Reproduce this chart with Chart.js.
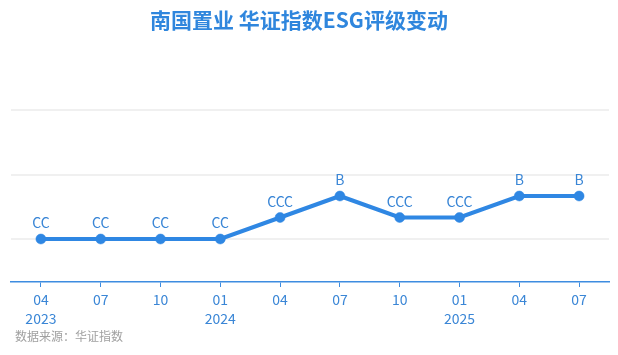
<!DOCTYPE html>
<html>
<head>
<meta charset="utf-8">
<script src="https://cdn.jsdelivr.net/npm/chart.js@4/dist/chart.umd.min.js"></script>
<style>
  html, body { margin: 0; padding: 0; background: #fff; }
  #wrap { position: relative; width: 618px; height: 355px; }
  #title { position: absolute; left: 0; width: 598px; top: 5px; text-align: center;
    font: bold 21px "Noto Sans CJK SC", sans-serif; color: #2f86dd; line-height: 28px; }
  #source { position: absolute; left: 15px; top: 327px; font: 12px "Noto Sans CJK SC", sans-serif;
    color: #a0a0a0; line-height: 18px; }
  canvas { position: absolute; left: 0; top: 0; }
</style>
</head>
<body>
<div id="wrap">
  <canvas id="c" width="618" height="355"></canvas>
  <div id="title">南国置业 华证指数ESG评级变动</div>
  <div id="source">数据来源：华证指数</div>
</div>
<script>
const months = ['04','07','10','01','04','07','10','01','04','07'];
const years = ['2023','','','2024','','','','2025','',''];
const ratings = ['CC','CC','CC','CC','CCC','B','CCC','CCC','B','B'];
const ratingScale = ['C','CC','CCC','B','BB','BBB','A','AA','AAA'];
const gridValues = [2, 5, 8];

const labels = months.map((m, i) => years[i] ? [m, years[i]] : [m]);
const values = ratings.map(r => ratingScale.indexOf(r) + 1);

const lineColor = '#2f87e3';
const textColor = '#3a86d6';
const fontFam = '"Noto Sans CJK SC", sans-serif';

const pointLabels = {
  id: 'pointLabels',
  afterDatasetsDraw(chart) {
    const ctx = chart.ctx;
    const meta = chart.getDatasetMeta(0);
    ctx.save();
    ctx.font = '14px ' + fontFam;
    ctx.fillStyle = textColor;
    ctx.textAlign = 'center';
    ctx.textBaseline = 'middle';
    meta.data.forEach((pt, i) => {
      ctx.fillText(ratings[i], pt.x, pt.y - 16);
    });
    ctx.restore();
  }
};

new Chart(document.getElementById('c'), {
  type: 'line',
  data: {
    labels: labels,
    datasets: [{
      data: values,
      borderColor: lineColor,
      backgroundColor: lineColor,
      borderWidth: 4,
      pointRadius: 5,
      pointHoverRadius: 5,
      pointBorderWidth: 0.5,
      pointBackgroundColor: lineColor,
      pointBorderColor: lineColor,
      tension: 0
    }]
  },
  options: {
    responsive: false,
    animation: false,
    layout: { padding: { top: 110, left: 11, right: 9, bottom: 0 } },
    plugins: { legend: { display: false }, tooltip: { enabled: false } },
    scales: {
      x: {
        offset: true,
        grid: { display: true, offset: false, drawOnChartArea: false, drawTicks: true,
          tickLength: 5, color: '#3d8ce0', lineWidth: 1 },
        border: { display: true, color: '#3d8ce0', width: 1.5 },
        ticks: { color: textColor, padding: 3, maxRotation: 0, autoSkip: false,
          font: { size: 14, family: fontFam, lineHeight: 1.36 } },
        afterFit: s => { s.height = 73; }
      },
      y: {
        min: 0, max: 8,
        afterBuildTicks: s => { s.ticks = gridValues.map(v => ({ value: v })); },
        afterFit: s => { s.width = 0; },
        grid: { color: '#f0f0f0', lineWidth: 2, drawTicks: false },
        border: { display: false },
        ticks: { display: false }
      }
    }
  },
  plugins: [pointLabels]
});
</script>
</body>
</html>
